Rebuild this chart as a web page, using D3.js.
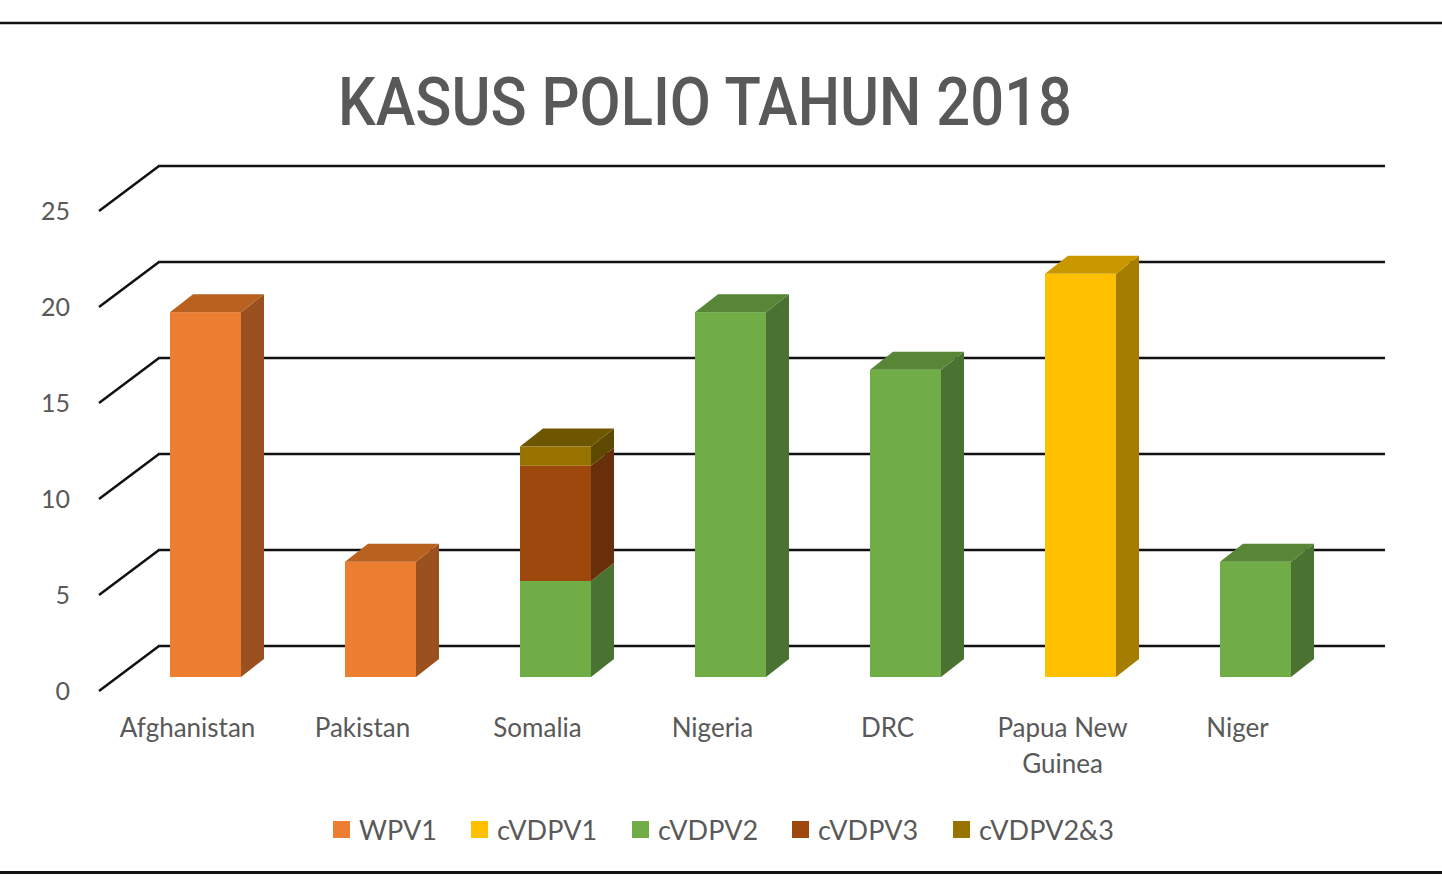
<!DOCTYPE html>
<html>
<head>
<meta charset="utf-8">
<script src="https://cdn.jsdelivr.net/npm/d3@7"></script>
<style>
  body { margin: 0; background: #fff; }
  svg { display: block; }
  text { font-family: Lato, "Open Sans", sans-serif; fill: #595959; }
</style>
</head>
<body>
<svg id="chart" width="1442" height="881"></svg>
<script>
// data
var countries = ["Afghanistan", "Pakistan", "Somalia", "Nigeria", "DRC", "Papua New Guinea", "Niger"];
var seriesNames = ["WPV1", "cVDPV1", "cVDPV2", "cVDPV3", "cVDPV2&3"];
var wpv1     = [19, 6, 0, 0, 0, 0, 0];
var cvdpv1   = [0, 0, 0, 0, 0, 21, 0];
var cvdpv2   = [0, 0, 5, 19, 16, 0, 6];
var cvdpv3   = [0, 0, 6, 0, 0, 0, 0];
var cvdpv23  = [0, 0, 1, 0, 0, 0, 0];
var yTicks = [0, 5, 10, 15, 20, 25];

var front = ["#ED7D31", "#FFC000", "#70AD47", "#9E480E", "#997300"];
var top_  = ["#B9611F", "#C99800", "#568636", "#7B380B", "#6E5500"];
var side  = ["#9A511F", "#A57D00", "#4A7230", "#67300A", "#5E4900"];

var rows = countries.map(function(c, i) {
  return { country: c, WPV1: wpv1[i], cVDPV1: cvdpv1[i], cVDPV2: cvdpv2[i], cVDPV3: cvdpv3[i], "cVDPV2&3": cvdpv23[i] };
});
var stacked = d3.stack().keys(seriesNames)(rows);

var svg = d3.select("#chart");
var W = 1442;

// frame lines top / bottom
svg.append("line").attr("x1", 0).attr("x2", W).attr("y1", 23).attr("y2", 23)
  .attr("stroke", "#111").attr("stroke-width", 2.5);
svg.append("line").attr("x1", 0).attr("x2", W).attr("y1", 872.5).attr("y2", 872.5)
  .attr("stroke", "#111").attr("stroke-width", 3);

// title
svg.append("text").attr("x", 705).attr("y", 125).attr("text-anchor", "middle")
  .attr("textLength", 734).attr("lengthAdjust", "spacingAndGlyphs")
  .style("font-family", "Roboto, sans-serif").style("font-weight", 500)
  .style("font-size", "66px").text("KASUS POLIO TAHUN 2018");

// 3D geometry
var depthX = 60, depthY = -45;   // floor depth
var barDX = 23, barDY = -18;     // bar depth
var barOffX = 18, barOffY = -14; // bar front face relative to front plane

var x = d3.scaleBand().domain(countries).range([100, 1325]).padding(0);
var y = d3.scaleLinear().domain([0, 25]).range([691, 211]);

// gridlines
var grid = svg.append("g");
yTicks.forEach(function(t) {
  var yf = y(t);
  grid.append("path")
    .attr("d", "M" + 99 + "," + yf + "L" + (99 + depthX) + "," + (yf + depthY) + "L" + 1385 + "," + (yf + depthY))
    .attr("fill", "none").attr("stroke", "#111").attr("stroke-width", 2.5);
  grid.append("text").attr("x", 70).attr("y", yf + 9).attr("text-anchor", "end")
    .style("font-size", "25px").text(t);
});

// bars
var bw = 71;
var bars = svg.append("g");
countries.forEach(function(c, i) {
  var x0 = x(c) + x.bandwidth() / 2 + barOffX - bw / 2;
  var lastK = -1;
  stacked.forEach(function(s, k) { if (s[i][1] - s[i][0] > 0) lastK = k; });
  stacked.forEach(function(s, k) {
    var v0 = s[i][0], v1 = s[i][1];
    if (v1 - v0 <= 0) return;
    var yb = y(v0) + barOffY, yt = y(v1) + barOffY;
    bars.append("rect").attr("x", x0).attr("y", yt).attr("width", bw).attr("height", yb - yt)
      .attr("fill", front[k]);
    bars.append("path")
      .attr("d", "M" + (x0 + bw) + "," + yb + "L" + (x0 + bw + barDX) + "," + (yb + barDY) +
        "L" + (x0 + bw + barDX) + "," + (yt + barDY) + "L" + (x0 + bw) + "," + yt + "Z")
      .attr("fill", side[k]);
    if (k === lastK) {
      bars.append("path")
        .attr("d", "M" + x0 + "," + yt + "L" + (x0 + barDX) + "," + (yt + barDY) +
          "L" + (x0 + bw + barDX) + "," + (yt + barDY) + "L" + (x0 + bw) + "," + yt + "Z")
        .attr("fill", top_[k]);
    }
  });
});

// category labels
var labels = svg.append("g");
countries.forEach(function(c) {
  var cx = x(c) + x.bandwidth() / 2;
  var lines = c === "Papua New Guinea" ? ["Papua New", "Guinea"] : [c];
  var t = labels.append("text").attr("text-anchor", "middle").style("font-size", "26px");
  lines.forEach(function(l, j) {
    t.append("tspan").attr("x", cx).attr("y", 737 + j * 36).text(l);
  });
});

// legend
var legX = [333, 471, 632, 792, 953];
var leg = svg.append("g");
seriesNames.forEach(function(n, k) {
  leg.append("rect").attr("x", legX[k]).attr("y", 821).attr("width", 17).attr("height", 17).attr("fill", front[k]);
  leg.append("text").attr("x", legX[k] + 26).attr("y", 840).style("font-size", "27px").text(n);
});
</script>
</body>
</html>
